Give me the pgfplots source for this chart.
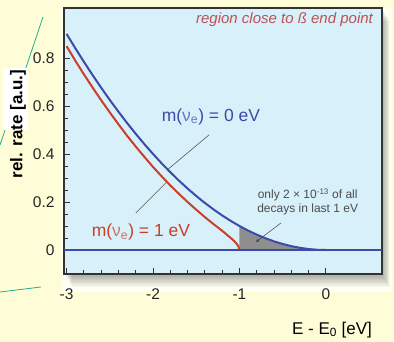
\documentclass[border=0pt]{standalone}
\usepackage{fontspec}
\setmainfont{Liberation Sans}
\usepackage{pgfplots}
\pgfplotsset{compat=1.18}
\usetikzlibrary{arrows.meta}
\definecolor{bgy}{HTML}{FFFDD8}
\definecolor{panel}{HTML}{FFFFF4}
\definecolor{plotbg}{HTML}{D7F0FA}
\definecolor{bluec}{HTML}{3B4BA8}
\definecolor{bluelight}{HTML}{6676C4}
\definecolor{redc}{HTML}{C8402A}
\definecolor{redlight}{HTML}{D87060}
\definecolor{titlered}{HTML}{C05050}
\definecolor{grayfill}{HTML}{8E8E8E}
\definecolor{frame}{HTML}{333333}
\definecolor{tealc}{HTML}{20B090}
\begin{document}
\begin{tikzpicture}[x=1pt,y=1pt]
\useasboundingbox (0,0) rectangle (394,342);
\fill[bgy] (0,0) rectangle (394,342);
\fill[panel] (62,50) rectangle (392,334);
\draw[tealc, line width=0.8pt] (43,325) -- (0,197);
\draw[tealc, line width=0.8pt] (0,50) -- (41,55);
\foreach \d in {1,...,10}
  \fill[black,opacity=0.035] (64+0.8*\d,68-1.3*\d) rectangle (382+0.8*\d,334-1.3*\d);
\begin{axis}[
  at={(64pt,68pt)}, anchor=south west, scale only axis,
  width=318pt, height=266pt,
  xmin=-3.03, xmax=0.65, ymin=-0.1, ymax=1.008,
  axis background/.style={fill=plotbg},
  axis line style={draw=frame, line width=1.2pt},
  xtick={-3,-2,-1,0}, ytick={0,0.2,0.4,0.6,0.8},
  minor x tick num=4, minor y tick num=3,
  tick align=inside, xtick pos=left, ytick pos=left,
  major tick length=6pt, minor tick length=4pt,
  tick style={draw=frame, line width=0.8pt},
  ticklabel style={font=\fontsize{15.5}{15.5}\selectfont, text=black!85},
  /pgf/number format/assume math mode=true,
  xticklabel style={yshift=-11pt},
  yticklabel style={xshift=-6pt},
]
\addplot[fill=grayfill, draw=none] coordinates {
 (-1,0.1) (-0.9,0.081) (-0.8,0.064) (-0.7,0.049) (-0.6,0.036) (-0.5,0.025)
 (-0.4,0.016) (-0.3,0.009) (-0.2,0.004) (-0.1,0.001) (0,0)} \closedcycle;
\addplot[bluec, line width=2pt] coordinates {
 (-3,0.9) (-2.9,0.841) (-2.8,0.784) (-2.7,0.729) (-2.6,0.676) (-2.5,0.625)
 (-2.4,0.576) (-2.3,0.529) (-2.2,0.484) (-2.1,0.441) (-2.0,0.4) (-1.9,0.361)
 (-1.8,0.324) (-1.7,0.289) (-1.6,0.256) (-1.5,0.225) (-1.4,0.196) (-1.3,0.169)
 (-1.2,0.144) (-1.1,0.121) (-1.0,0.1) (-0.9,0.081) (-0.8,0.064) (-0.7,0.049)
 (-0.6,0.036) (-0.5,0.025) (-0.4,0.016) (-0.3,0.009) (-0.2,0.004) (-0.1,0.001) (0,0)};
\addplot[redc, line width=2pt] coordinates {
 (-3,0.849) (-2.9,0.789) (-2.8,0.732) (-2.7,0.677) (-2.6,0.624) (-2.5,0.573)
 (-2.4,0.524) (-2.3,0.476) (-2.2,0.431) (-2.1,0.388) (-2.0,0.346) (-1.9,0.307)
 (-1.8,0.269) (-1.7,0.234) (-1.6,0.200) (-1.5,0.168) (-1.4,0.137) (-1.3,0.108)
 (-1.2,0.080) (-1.15,0.065) (-1.1,0.050) (-1.06,0.037) (-1.03,0.025) (-1.01,0.014) (-1.0,0)};
\addplot[bluec, line width=1.4pt] coordinates {(-3.03,0) (0.65,0)};
\draw[black!65, line width=0.6pt] (axis cs:-1.83,0.335) -- (axis cs:-1.35,0.48);
\draw[black!65, line width=0.6pt] (axis cs:-1.85,0.28) -- (axis cs:-2.2,0.154);
\draw[black!75, line width=0.5pt, -{Stealth[length=4pt,width=3pt]}] (axis cs:-0.52,0.1125) -- (axis cs:-0.81,0.033);
\node[text=bluec, font=\fontsize{17.5}{17.5}\selectfont, inner sep=0] at (axis cs:-1.33,0.555)
  {m({\color{bluelight}ν\textsubscript{e}}) = 0 eV};
\node[text=redc, font=\fontsize{17.5}{17.5}\selectfont, inner sep=0] at (axis cs:-2.14,0.075)
  {m({\color{redlight}ν\textsubscript{e}}) = 1 eV};
\node[text=black!70, font=\fontsize{12}{14}\selectfont, align=center, inner sep=0] at (axis cs:-0.21,0.2)
  {only 2 × 10\textsuperscript{-13} of all\\decays in last 1 eV};
\node[anchor=east, inner sep=0, text=titlered, font=\itshape\fontsize{15}{15}\selectfont] at (rel axis cs:0.972,0.955)
  {region close to ß end point};
\end{axis}
\fill[white] (3,212) rectangle (28,274);
\node[rotate=90, font=\bfseries\fontsize{17}{17}\selectfont, inner sep=0] at (18,218) {rel. rate [a.u.]};
\node[font=\fontsize{17}{17}\selectfont, inner sep=0] at (332,12) {E - E\textsubscript{0} [eV]};
\end{tikzpicture}
\end{document}
